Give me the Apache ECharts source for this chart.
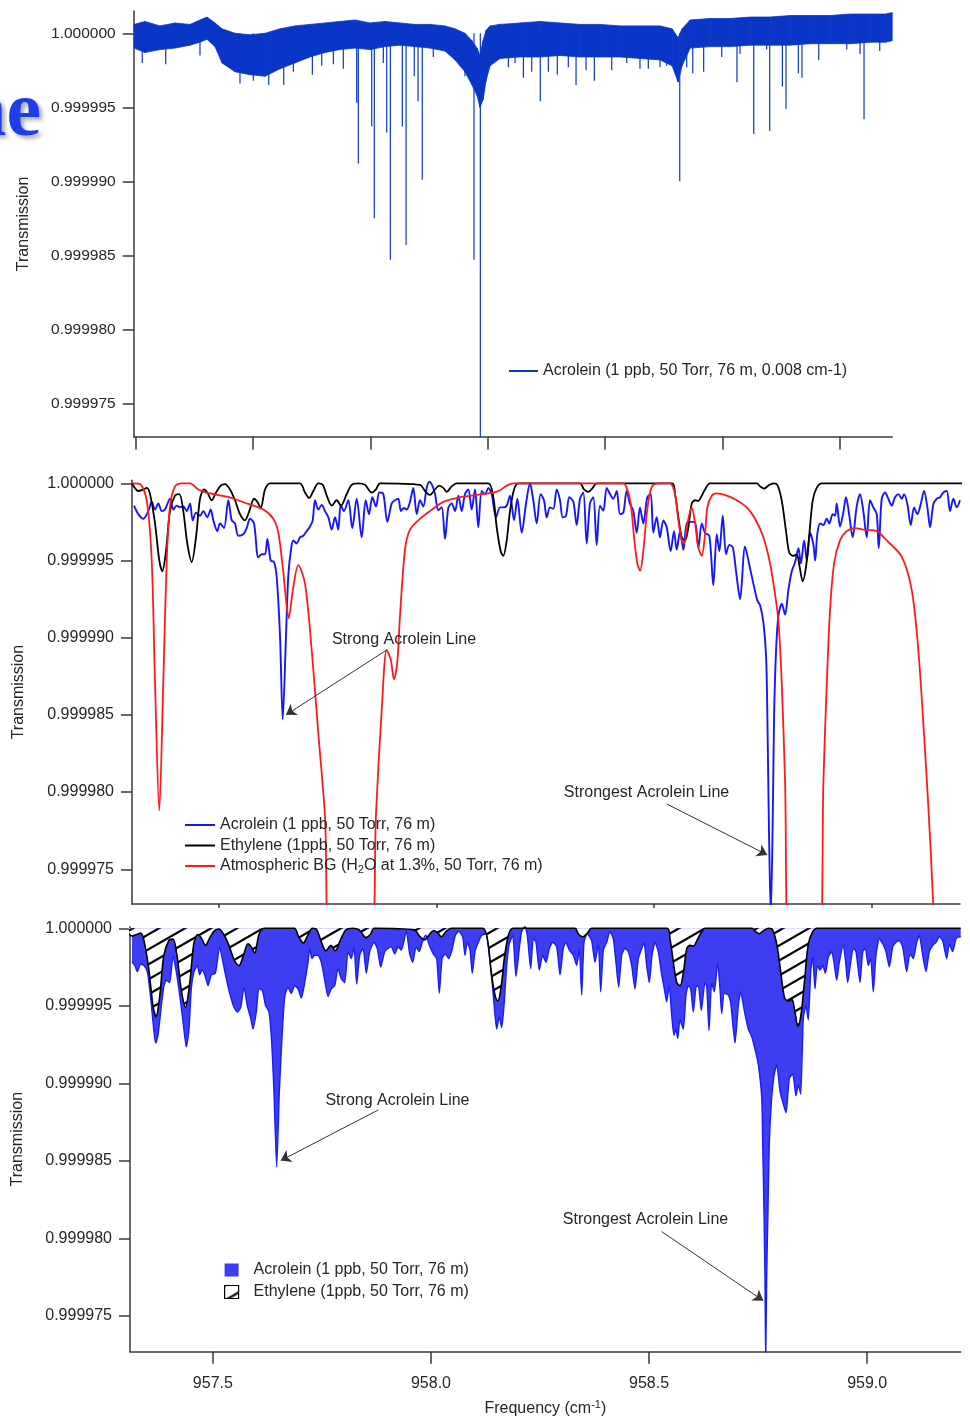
<!DOCTYPE html>
<html><head><meta charset="utf-8">
<script src="https://cdn.jsdelivr.net/npm/echarts@6/dist/echarts.min.js"></script>
<style>html,body{margin:0;padding:0;background:#fff}#c{width:970px;height:1418px}</style>
</head><body><div id="c"></div>
<script>
// ---------- DATA (transmission deviation from 1, in units of 1e-6) ----------
// Top panel (wide scan, x in axis-tick units)
const topU = [-0.015,0.078,0.206,0.334,0.462,0.547,0.607,0.675,0.735,0.846,0.974,1.102,1.229,1.357,1.485,1.613,1.741,1.869,1.997,2.124,2.252,2.380,2.508,2.636,2.721,2.806,2.866,2.909,2.934,2.960,2.986,3.020,3.105,3.276,3.447,3.617,3.788,3.958,4.129,4.299,4.470,4.572,4.623,4.657,4.726,4.896,5.067,5.237,5.408,5.579,5.749,5.920,6.090,6.261,6.389,6.448];
const topUpper = [0.6,0.8,0.5,0.7,0.6,0.9,1.1,0.7,0.3,0.0,-0.1,0.0,0.3,0.5,0.6,0.7,0.8,0.9,0.7,0.8,0.7,0.6,0.6,0.5,0.3,0.0,-0.5,-1.0,-1.5,-0.5,0.2,0.5,0.6,0.7,0.8,0.7,0.6,0.6,0.5,0.5,0.5,0.3,-0.3,0.3,0.9,1.0,1.0,1.1,1.1,1.2,1.2,1.2,1.3,1.3,1.3,1.4];
const topLower = [-1.0,-1.3,-1.1,-1.0,-0.8,-0.6,-0.4,-0.9,-2.0,-2.6,-2.8,-2.9,-2.4,-2.0,-1.6,-1.3,-1.1,-1.0,-1.1,-0.9,-0.8,-0.9,-1.0,-1.2,-1.8,-2.6,-3.5,-4.2,-5.0,-4.5,-3.2,-2.2,-1.7,-1.6,-1.6,-1.5,-1.6,-1.6,-1.6,-1.7,-1.8,-2.2,-3.3,-2.2,-1.0,-0.9,-0.9,-0.8,-0.8,-0.8,-0.7,-0.7,-0.7,-0.6,-0.6,-0.5];
const topSpikeU = [0.055,0.255,0.888,1.133,1.261,1.505,1.769,1.883,1.897,2.011,2.033,2.139,2.170,2.272,2.304,2.374,2.406,2.442,2.883,2.937,3.304,3.375,3.448,3.593,3.753,3.909,4.369,4.637,4.748,4.841,5.125,5.268,5.404,5.512,5.543,5.648,5.679,5.822,6.208,6.342,
  3.176,3.233,3.517,3.687,3.838,4.057,4.185,4.298,4.469,4.526,4.582,4.696,4.995,5.151,5.378,6.061,6.174,0.547,1.002,1.343,1.585,1.684,2.110,2.536,2.806];
const topSpikeDepth = [-2.0,-2.1,-3.4,-3.5,-3.5,-2.8,-2.4,-4.7,-8.8,-6.3,-12.5,-6.7,-15.3,-6.3,-14.3,-2.9,-4.6,-9.9,-15.3,-28,-3.0,-2.6,-4.6,-2.8,-3.5,-3.2,-2.4,-10.0,-2.7,-2.6,-3.3,-6.8,-6.6,-3.6,-5.1,-2.7,-3.0,-1.8,-5.8,-1.2,
  -2.3,-2.0,-2.6,-2.3,-2.5,-2.5,-2.0,-2.4,-2.3,-2.2,-2.0,-2.3,-1.6,-1.4,-1.1,-1.1,-1.4,-1.5,-3.2,-2.6,-2.2,-2.1,-2.0,-1.6,-2.9];

// Middle panel: acrolein
const midAcroFreq = [957.3046,957.3145,957.3260,957.3375,957.3453,957.3529,957.3604,957.3683,957.3758,957.3873,
957.3949,957.4027,957.4103,957.4179,957.4257,957.4333,957.4395,957.4471,957.4563,957.4639,
957.4731,957.4809,957.4869,957.4960,957.5023,957.5114,957.5213,957.5291,957.5367,957.5443,
957.5558,957.5636,957.5712,957.5804,957.5903,957.5981,957.6057,957.6110,957.6188,957.6264,
957.6326,957.6402,957.6464,957.6539,957.6592,957.6654,957.6707,957.6785,957.6861,957.6937,
957.7015,957.7091,957.7153,957.7206,957.7282,957.7360,957.7436,957.7512,957.7590,957.7666,
957.7741,957.7797,957.7872,957.7971,957.8063,957.8164,957.8279,957.8371,957.8447,957.8523,
957.8608,957.8684,957.8776,957.8868,957.8969,957.9044,957.9120,957.9182,957.9251,957.9313,
957.9389,957.9465,957.9543,957.9619,957.9695,957.9773,957.9833,957.9895,957.9964,958.0040,
958.0118,958.0194,958.0270,958.0348,958.0424,958.0500,958.0578,958.0653,958.0729,958.0807,
958.0883,958.0959,958.1037,958.1113,958.1189,958.1267,958.1366,958.1458,958.1534,958.1612,
958.1688,958.1780,958.1856,958.1957,958.2055,958.2147,958.2223,958.2301,958.2393,958.2469,
958.2531,958.2607,958.2683,958.2761,958.2837,958.2899,958.2975,958.3051,958.3143,958.3221,
958.3296,958.3372,958.3450,958.3526,958.3602,958.3680,958.3756,958.3832,958.3910,958.3986,
958.4062,958.4140,958.4216,958.4292,958.4370,958.4446,958.4521,958.4600,958.4675,958.4751,
958.4843,958.4921,958.4981,958.5059,958.5135,958.5211,958.5289,958.5381,958.5457,958.5519,
958.5596,958.5672,958.5750,958.5865,958.5941,958.6016,958.6095,958.6170,958.6269,958.6361,
958.6439,958.6499,958.6577,958.6653,958.6729,958.6807,958.6883,958.6975,958.7090,958.7189,
958.7281,958.7373,958.7435,958.7511,958.7573,958.7603,958.7635,958.7681,958.7727,958.7757,
958.7803,958.7856,958.7934,958.8010,958.8086,958.8164,958.8241,958.8317,958.8372,958.8448,
958.8510,958.8586,958.8662,958.8701,958.8750,958.8813,958.8889,958.8967,958.9026,958.9104,
958.9157,958.9196,958.9272,958.9348,958.9410,958.9486,958.9564,958.9656,958.9732,958.9808,
958.9886,958.9962,959.0038,959.0116,959.0162,959.0231,959.0307,959.0383,959.0461,959.0537,
959.0613,959.0691,959.0744,959.0820,959.0898,959.0974,959.1050,959.1128,959.1204,959.1280,
959.1342,959.1418,959.1496,959.1572,959.1648,959.1726,959.1800,959.1878,959.1956,959.2030];
const midAcroDev = [-1.45,-2.0,-2.3,-1.8,-1.2,-1.7,-1.3,-1.8,-1.7,-1.0,
-1.7,-1.45,-1.55,-1.5,-1.8,-1.3,-2.4,-1.9,-2.1,-1.8,
-2.2,-1.7,-2.4,-3.1,-2.6,-2.9,-1.1,-2.4,-2.6,-3.4,
-3.3,-2.9,-2.3,-2.6,-4.8,-4.6,-4.6,-3.6,-5.0,-5.1,
-6.1,-9.9,-15.3,-9.9,-6.0,-4.3,-3.7,-3.9,-3.5,-3.4,
-3.1,-2.8,-2.4,-1.1,-1.7,-1.4,-1.8,-2.2,-3.0,-2.2,
-3.0,-1.4,-1.8,-1.1,-2.9,-1.0,-3.5,-1.1,-2.0,-0.9,
-1.5,-0.6,-0.7,-2.5,-1.3,-1.1,-1.0,-1.8,-1.6,-1.7,
-1.2,-0.3,-2.0,-1.1,-1.5,-0.3,0.1,-0.1,-0.7,-1.75,
-1.55,-3.6,-1.6,-1.3,-1.8,-0.8,-1.8,-0.7,-0.4,-1.7,
-0.4,-2.85,-0.5,-0.7,-0.3,-0.7,-2.2,-1.56,-1.56,-1.45,
-0.8,-2.4,-1.0,-3.2,-1.34,0.0,-1.1,-2.6,-0.7,-1.1,
-2.2,-1.56,-1.66,-0.4,-1.1,-2.2,-2.1,-0.9,-1.2,-2.7,
-1.0,-0.6,-3.9,-1.3,-0.9,-4.0,-1.45,-1.77,-0.3,-0.7,
-1.0,-0.5,-2.0,-1.9,-0.5,-1.34,-1.77,-3.2,-1.56,-2.6,
-0.9,-0.7,-3.2,-2.2,-3.5,-2.4,-2.85,-4.4,-3.1,-4.3,
-3.1,-4.3,-2.6,-2.5,-2.5,-4.2,-2.6,-3.2,-3.4,-6.6,
-3.3,-4.4,-2.1,-4.6,-4.0,-4.15,-5.7,-7.5,-4.1,-5.3,
-6.5,-7.6,-7.9,-9.0,-11.2,-15.1,-21.6,-28,-21.6,-15.1,
-10.8,-8.6,-7.8,-8.5,-6.9,-5.7,-5.1,-4.2,-5.2,-3.7,
-5.0,-3.2,-4.0,-5.0,-3.3,-2.6,-2.7,-2.3,-2.6,-2.0,
-2.1,-1.3,-2.8,-1.9,-0.9,-2.1,-3.5,-1.5,-0.7,-1.8,
-3.5,-1.1,-1.56,-2.0,-4.2,-1.0,-0.6,-1.0,-1.45,-0.9,
-0.7,-1.0,-0.7,-1.34,-2.7,-1.56,-2.0,-1.34,-0.5,-1.56,
-2.85,-1.34,-1.0,-0.9,-0.6,-0.5,-1.8,-1.0,-1.56,-1.1];

// Ethylene (shared by middle and bottom panels)
const ethFreq = [957.3000,957.3145,957.3260,957.3338,957.3414,957.3529,957.3627,957.3696,957.3781,957.3873,
957.3988,957.4087,957.4179,957.4271,957.4372,957.4471,957.4563,957.4655,957.4731,957.4832,
957.4931,957.5039,957.5137,957.5252,957.5367,957.5482,957.5597,957.5696,957.5804,957.5880,
957.5958,957.6057,957.6172,957.6861,957.6976,957.7075,957.7167,957.7282,957.7383,957.7489,
957.7590,957.7705,957.7803,957.7934,957.8049,957.8201,957.8355,957.8509,957.8608,957.8700,
957.9619,957.9734,957.9849,957.9964,958.0063,958.0155,958.0233,958.0348,958.0463,958.1189,
958.1304,958.1382,958.1474,958.1534,958.1612,958.1688,958.1780,958.1879,958.3296,958.3388,
958.3487,958.3588,958.3680,958.5411,958.5481,958.5557,958.5635,958.5711,958.5787,958.5865,
958.5941,958.6016,958.6095,958.6170,958.6285,958.7359,958.7435,958.7527,958.7624,958.7739,
958.7831,958.7932,958.8031,958.8107,958.8199,958.8277,958.8337,958.8415,958.8491,958.8567,
958.8645,958.8737,958.8852,959.2144];
const ethDev = [0,-0.5,-0.4,-0.3,-0.7,-2.6,-5.0,-5.7,-4.4,-1.8,
-0.8,-0.7,-1.8,-3.9,-5.1,-3.5,-1.0,-0.4,-0.6,-1.1,
-0.6,-0.15,-0.05,-0.4,-1.1,-2.0,-2.4,-1.8,-1.0,-1.2,
-1.6,-0.4,0,0,-0.6,-0.95,-0.5,0,-0.1,-0.9,
-1.45,-1.1,-1.45,-0.7,-0.1,0,-0.1,-0.6,-0.4,0,
-0.1,-0.5,-0.75,-0.4,-0.15,-0.3,-0.55,-0.2,0,0,
-0.9,-2.85,-4.4,-4.7,-3.7,-1.8,-0.4,0,0,-0.4,
-0.55,-0.3,0,0,-0.7,-2.2,-3.5,-3.7,-2.85,-1.3,
-1.1,-1.15,-0.8,-0.4,0,0,-0.2,-0.35,-0.15,0,
-0.1,-1.1,-3.1,-4.5,-4.7,-4.6,-5.3,-6.35,-5.4,-3.3,
-1.1,-0.3,0,0];

// Atmospheric background (H2O)
const atmFreq = [957.3011,957.3184,957.3338,957.3453,957.3529,957.3627,957.3719,957.3798,957.3873,957.3988,
957.4142,957.4333,957.4524,957.4717,957.5177,957.5636,957.6018,957.6248,957.6362,957.6464,
957.6539,957.6601,957.6693,957.6822,957.6976,957.7130,957.7282,957.7436,957.7551,957.8493,
957.8608,957.8739,957.8854,957.8946,957.9021,957.9097,957.9159,957.9274,957.9389,957.9619,
957.9849,958.0155,958.0539,958.0922,958.1304,958.1458,958.1612,958.1763,958.4292,958.4370,
958.4462,958.4539,958.4614,958.4677,958.4751,958.4830,958.4906,958.4981,958.5135,958.5365,
958.5481,958.5557,958.5635,958.5688,958.5764,958.5865,958.5941,958.6016,958.6095,958.6170,
958.6223,958.6324,958.6439,958.6669,958.6899,958.7129,958.7320,958.7511,958.7665,958.7780,
958.7856,958.7934,958.8010,958.8102,958.8803,958.8890,958.8968,958.9044,958.9136,958.9272,
958.9426,958.9617,958.9808,959.0116,959.0346,959.0690,959.0920,959.1072,959.1226,959.1357,
959.1456];
const atmDev = [0,-0.05,-1.1,-5.0,-12.9,-21.2,-12.9,-5.0,-1.5,-0.2,
0,0,-0.4,-0.6,-0.87,-1.3,-1.7,-2.3,-3.2,-5.4,
-7.5,-8.75,-7.0,-5.3,-6.5,-10.8,-16.2,-21.6,-30,-30,
-21.4,-14.7,-10.8,-11.4,-12.7,-11.6,-8.6,-4.3,-3.0,-2.3,
-1.8,-1.2,-0.9,-0.75,-0.6,-0.45,-0.15,0,0,-0.3,
-1.3,-3.5,-5.2,-5.66,-4.4,-2.0,-0.6,-0.1,0,0,
-0.7,-2.4,-3.7,-3.9,-2.6,-1.56,-2.6,-4.15,-4.7,-3.3,
-1.56,-0.8,-0.65,-0.8,-1.1,-1.56,-2.3,-3.5,-5.2,-7.2,
-8.9,-13.0,-19.4,-30,-30,-19.4,-13.0,-8.2,-5.2,-3.7,
-3.1,-2.9,-3.0,-3.1,-3.7,-4.75,-6.9,-10.8,-17.3,-23.8,
-30];

// Bottom panel: acrolein + ethylene combined
const botFreq = [957.3146,957.3208,957.3267,957.3345,957.3421,957.3497,957.3575,957.3650,957.3689,957.3742,
957.3818,957.3879,957.3932,957.4010,957.4086,957.4161,957.4239,957.4315,957.4391,957.4453,
957.4505,957.4567,957.4643,957.4698,957.4751,957.4813,957.4888,957.4964,957.5056,957.5156,
957.5232,957.5308,957.5386,957.5484,957.5560,957.5638,957.5713,957.5789,957.5867,957.5920,
957.5995,957.6057,957.6133,957.6211,957.6287,957.6349,957.6401,957.6463,957.6523,957.6578,
957.6647,957.6722,957.6798,957.6876,957.6951,957.7027,957.7105,957.7181,957.7220,957.7272,
957.7334,957.7410,957.7486,957.7564,957.7639,957.7715,957.7793,957.7868,957.7944,957.8022,
957.8098,957.8173,957.8235,957.8297,957.8366,957.8442,957.8517,957.8595,957.8694,957.8769,
957.8847,957.8939,957.9015,957.9090,957.9168,957.9244,957.9320,957.9434,957.9512,957.9581,
957.9657,957.9732,957.9810,957.9886,957.9962,958.0053,958.0131,958.0191,958.0253,958.0328,
958.0406,958.0482,958.0558,958.0636,958.0727,958.0780,958.0833,958.0895,958.0947,958.1009,
958.1085,958.1163,958.1261,958.1337,958.1415,958.1468,958.1507,958.1566,958.1621,958.1674,
958.1736,958.1795,958.1873,958.1949,958.2025,958.2080,958.2155,958.2208,958.2286,958.2346,
958.2408,958.2483,958.2561,958.2637,958.2713,958.2790,958.2882,958.2958,958.3033,958.3095,
958.3171,958.3263,958.3341,958.3400,958.3455,958.3508,958.3584,958.3684,958.3760,958.3836,
958.3891,958.3951,958.4028,958.4104,958.4180,958.4241,958.4303,958.4372,958.4448,958.4523,
958.4601,958.4677,958.4753,958.4831,958.4884,958.4945,958.5005,958.5067,958.5136,958.5211,
958.5289,958.5349,958.5404,958.5463,958.5518,958.5571,958.5617,958.5656,958.5709,958.5784,
958.5846,958.5899,958.5954,958.6014,958.6075,958.6128,958.6197,958.6282,958.6321,958.6374,
958.6435,958.6495,958.6573,958.6626,958.6665,958.6724,958.6816,958.6871,958.6970,958.7045,
958.7100,958.7176,958.7274,958.7353,958.7428,958.7504,958.7582,958.7605,958.7634,958.7657,
958.7673,958.7696,958.7726,958.7756,958.7811,958.7864,958.7926,958.8001,958.8063,958.8139,
958.8214,958.8292,958.8368,958.8421,958.8476,958.8535,958.8597,958.8650,958.8705,958.8751,
958.8804,958.8856,958.8918,958.8980,958.9040,958.9109,958.9186,958.9239,958.9301,958.9361,
958.9452,958.9507,958.9553,958.9622,958.9682,958.9744,958.9835,958.9897,958.9957,959.0026,
959.0081,959.0140,959.0202,959.0278,959.0356,959.0431,959.0507,959.0585,959.0661,959.0736,
959.0814,959.0906,959.0982,959.1057,959.1135,959.1195,959.1273,959.1348,959.1424,959.1502,
959.1578,959.1653,959.1731,959.1823,959.1883,959.1960,959.2036,959.2112,959.2144];
const botDev = [-2.17,-2.4,-2.8,-2.3,-2.4,-2.8,-4.5,-6.7,-7.4,-6.9,
-5.0,-3.7,-3.35,-3.5,-1.8,-2.8,-4.3,-6.0,-7.65,-6.5,
-3.9,-2.8,-2.4,-3.0,-2.7,-3.0,-3.7,-3.0,-2.9,-1.2,
-2.2,-3.25,-4.2,-5.1,-5.4,-5.1,-3.8,-5.0,-5.8,-6.5,
-5.4,-3.9,-4.0,-5.0,-5.4,-7.4,-10.6,-15.4,-10.6,-7.4,
-4.4,-3.8,-4.2,-3.7,-3.9,-4.5,-3.5,-2.2,-1.3,-1.95,
-1.74,-1.74,-2.2,-3.35,-4.4,-3.9,-3.7,-2.6,-3.25,-3.5,
-1.5,-1.95,-1.2,-3.6,-1.74,-1.3,-2.9,-1.5,-0.9,-1.3,
-2.5,-1.5,-1.3,-1.2,-1.65,-1.2,-1.4,-0.2,-1.65,-2.2,
-1.2,-1.5,-0.8,-0.45,-1.1,-1.65,-1.95,-4.2,-1.95,-1.65,
-1.95,-1.4,-0.45,-0.2,-0.55,-1.74,-0.9,-1.4,-2.9,-1.5,
-0.9,-0.45,-0.35,-1.74,-3.9,-5.6,-6.5,-5.7,-6.4,-5.0,
-2.4,-1.0,-0.45,-3.1,-1.3,-0.2,0.1,-0.45,-2.6,-0.67,
-0.9,-2.7,-1.74,-2.2,-1.3,-0.9,-1.2,-3.0,-1.3,-0.9,
-1.4,-1.74,-2.4,-1.3,-4.3,-0.9,-0.35,-0.8,-2.2,-1.0,
-4.1,-1.4,-0.9,-0.2,-0.67,-2.2,-3.8,-1.74,-1.3,-1.5,
-2.4,-3.9,-1.95,-1.3,-0.9,-2.4,-3.5,-1.74,-0.9,-1.5,
-3.0,-3.9,-4.75,-3.7,-5.6,-6.9,-6.5,-7.1,-5.9,-6.5,
-4.3,-3.7,-3.9,-5.4,-3.8,-3.7,-5.3,-3.5,-3.7,-6.6,
-3.5,-4.1,-2.2,-3.9,-5.5,-4.2,-4.3,-4.8,-7.4,-5.0,
-4.1,-5.2,-6.5,-7.0,-7.8,-8.8,-10.9,-13.9,-18.2,-22.5,
-28,-22.5,-18.2,-13.9,-10.9,-9.5,-8.8,-10.5,-11.2,-11.9,
-9.7,-9.4,-10.8,-10.1,-10.7,-5.8,-5.0,-5.9,-2.8,-1.85,
-3.9,-2.4,-2.7,-2.4,-2.9,-1.85,-1.5,-2.2,-3.35,-2.2,
-1.1,-2.2,-3.5,-2.2,-1.3,-1.5,-3.5,-1.5,-1.3,-2.4,
-1.95,-4.1,-1.74,-0.67,-1.0,-1.5,-2.5,-1.2,-0.9,-0.8,
-1.2,-2.8,-1.65,-1.95,-0.9,-0.45,-1.74,-2.8,-1.5,-1.1,
-0.9,-0.55,-0.8,-1.95,-1.0,-1.5,-0.67,-0.55,-0.55];

// Tick values
const yTickValues = [-25,-20,-15,-10,-5,0];
const freqTickValues = [957.5,958.0,958.5,959.0];
const topTickValues = [0,1,2,3,4,5,6];

// Annotations (data coordinates)
const midAnnotations = [
  {text:'Strong Acrolein Line', at:[957.9251,-10.15], from:[957.8854,-10.8], to:[957.6539,-15.0]},
  {text:'Strongest Acrolein Line', at:[958.4825,-20.06], from:[958.5289,-20.77], to:[958.7601,-24.07]}
];
const botAnnotations = [
  {text:'Strong Acrolein Line', at:[957.9232,-11.12], from:[957.8792,-11.72], to:[957.6555,-14.99]},
  {text:'Strongest Acrolein Line', at:[958.4918,-18.82], from:[958.5289,-19.57], to:[958.7618,-24.03]}
];

const LABELS = {
  acroTop:'Acrolein (1 ppb, 50 Torr, 76 m, 0.008 cm-1)',
  acroMid:'Acrolein (1 ppb, 50 Torr, 76 m)',
  ethMid:'Ethylene (1ppb, 50 Torr, 76 m)',
  atmMid:'{n|Atmospheric BG (H}{s|2}{n|O at 1.3%, 50 Torr, 76 m)}',
  acroBot:'Acrolein (1 ppb, 50 Torr, 76 m)',
  ethBot:'Ethylene (1ppb, 50 Torr, 76 m)'
};

// ---------- CHART ----------
const FONT = '"Liberation Sans", Arial, Helvetica, sans-serif';
const TXT = '#262626';
const AX = '#3a3a3a';
const TOPBLUE = '#0a36c8';
const MIDBLUE = '#1515ff';
const RED = '#ff1a1a';

const zip = (xs, ys) => xs.map((x, i) => [x, ys[i]]);

function makeHatch(){
  const W = 26, H = 15;
  const c = document.createElement('canvas');
  c.width = W; c.height = H;
  const g = c.getContext('2d');
  g.fillStyle = '#fff'; g.fillRect(0, 0, W, H);
  g.strokeStyle = '#000'; g.lineWidth = 2.2;
  const s = H / W;
  for (const k of [0, 1, 2]) {
    g.beginPath();
    g.moveTo(-4, H * k + 4 * s);
    g.lineTo(W + 4, H * k - (W + 4) * s);
    g.stroke();
  }
  return {image: c, repeat: 'repeat'};
}
const hatch = makeHatch();

const topSpikeData = [];
topSpikeU.forEach((u, i) => { topSpikeData.push([u, 0], [u, topSpikeDepth[i]], [u, '-']); });

function yAxisFor(gi, min, max, nameGap, fs){
  return {
    gridIndex: gi, type: 'value', min, max,
    axisLine: {show: true, onZero: false, lineStyle: {color: AX, width: 1.5}},
    axisTick: {show: true, length: 11, customValues: yTickValues, lineStyle: {color: AX, width: 1.5}},
    axisLabel: {show: true, customValues: yTickValues, margin: 18, color: TXT, fontSize: fs, fontFamily: FONT,
      formatter: v => (1 + v * 1e-6).toFixed(6)},
    splitLine: {show: false},
    name: 'Transmission', nameLocation: 'middle', nameGap, nameRotate: 90, nameMoveOverlap: false,
    nameTextStyle: {color: TXT, fontSize: 16, fontFamily: FONT}
  };
}

function marks(list){
  return {
    markLine: {
      silent: true, animation: false, symbol: ['none', 'arrow'], symbolSize: 10,
      label: {show: false}, emphasis: {disabled: true},
      lineStyle: {color: '#333', width: 1, type: 'solid'},
      itemStyle: {color: '#222'},
      data: list.map(a => [{coord: a.from}, {coord: a.to}])
    },
    markPoint: {
      silent: true, animation: false, symbol: 'rect', symbolSize: 1,
      itemStyle: {color: 'rgba(0,0,0,0)'},
      label: {show: true, position: 'inside', color: TXT, fontSize: 16, fontFamily: FONT},
      data: list.map(a => ({coord: a.at, label: {formatter: a.text}}))
    }
  };
}

const legendText = {
  fontSize: 16, color: TXT, fontFamily: FONT, lineHeight: 18,
  rich: {
    n: {fontSize: 16, color: TXT, fontFamily: FONT, lineHeight: 18},
    s: {fontSize: 11, color: TXT, fontFamily: FONT, lineHeight: 10, verticalAlign: 'bottom'}
  }
};

const chart = echarts.init(document.getElementById('c'), null, {renderer: 'canvas'});
chart.setOption({
  animation: false,
  backgroundColor: '#fff',
  textStyle: {fontFamily: FONT},
  graphic: [{
    type: 'text', x: 41, y: 115, silent: true,
    style: {text: 'ne', fontSize: 78, fontWeight: 'bold', fontFamily: '"Liberation Serif", "Times New Roman", serif',
      fill: '#1f3fe6', align: 'right', verticalAlign: 'middle',
      textShadowColor: 'rgba(0,0,40,0.35)', textShadowBlur: 4, textShadowOffsetX: 3, textShadowOffsetY: 3}
  }],
  grid: [
    {left: 133.7, top: 11.1, width: 758.6, height: 425.6, outerBoundsMode: 'none'},
    {left: 132, top: 480.2, width: 828, height: 423.8, outerBoundsMode: 'none'},
    {left: 130, top: 926.75, width: 830.7, height: 424.95, outerBoundsMode: 'none'}
  ],
  xAxis: [
    {gridIndex: 0, type: 'value', min: -0.018, max: 6.449,
      axisLine: {onZero: false, lineStyle: {color: AX, width: 1.5}},
      axisTick: {length: 13, customValues: topTickValues, lineStyle: {color: AX, width: 1.5}},
      axisLabel: {show: false}, splitLine: {show: false}},
    {gridIndex: 1, type: 'value', min: 957.3, max: 959.203,
      axisLine: {onZero: false, lineStyle: {color: AX, width: 1.5}},
      axisTick: {length: 4, customValues: freqTickValues, lineStyle: {color: AX, width: 1.5}},
      axisLabel: {show: false}, splitLine: {show: false}},
    {gridIndex: 2, type: 'value', min: 957.31, max: 959.2144,
      axisLine: {onZero: false, lineStyle: {color: AX, width: 1.5}},
      axisTick: {length: 12, customValues: freqTickValues, lineStyle: {color: AX, width: 1.5}},
      axisLabel: {customValues: freqTickValues, formatter: v => v.toFixed(1), margin: 24, color: TXT, fontSize: 16, fontFamily: FONT},
      splitLine: {show: false},
      name: '{n|Frequency (cm}{sup|-1}{n|)}', nameLocation: 'middle', nameGap: 48, nameMoveOverlap: false,
      nameTextStyle: {color: TXT, fontFamily: FONT, fontSize: 16, rich: {
        n: {fontSize: 16, color: TXT, fontFamily: FONT, lineHeight: 18},
        sup: {fontSize: 11, color: TXT, fontFamily: FONT, lineHeight: 10, verticalAlign: 'top'}
      }}}
  ],
  yAxis: [
    yAxisFor(0, -27.26, 1.5, 102, 15.5),
    yAxisFor(1, -27.25, 0.2, 105, 16),
    yAxisFor(2, -27.32, 0.1, 104, 16)
  ],
  legend: [
    {data: ['acroTop'], left: 509, top: 362, orient: 'vertical', padding: 0, itemWidth: 29, itemHeight: 2,
      icon: 'rect', selectedMode: false, formatter: n => LABELS[n], textStyle: legendText},
    {data: ['acroMid', 'ethMid', 'atmMid'], left: 185, top: 816, orient: 'vertical', padding: 0, itemWidth: 30, itemHeight: 2,
      itemGap: 2.5, icon: 'rect', selectedMode: false, formatter: n => LABELS[n], textStyle: legendText},
    {data: [{name: 'acroBot', icon: 'rect', itemStyle: {color: '#3d3df2'}},
            {name: 'ethBot', icon: 'rect', itemStyle: {color: hatch, borderColor: '#000', borderWidth: 1.2}}],
      left: 224, top: 1261, orient: 'vertical', padding: 0, itemWidth: 14, itemHeight: 13, itemGap: 4,
      selectedMode: false, formatter: n => LABELS[n], textStyle: Object.assign({}, legendText, {padding: [0, 0, 0, 10]})}
  ],
  series: [
    {type: 'custom', name: 'topBand', xAxisIndex: 0, yAxisIndex: 0, silent: true, clip: true,
      data: topU.map((u, i) => [u, topUpper[i], topLower[i]]),
      encode: {x: 0, y: [1, 2]},
      renderItem: (params, api) => {
        const i = params.dataIndex;
        if (i >= topU.length - 1) return null;
        const pts = [
          api.coord([topU[i], topUpper[i]]), api.coord([topU[i + 1], topUpper[i + 1]]),
          api.coord([topU[i + 1], topLower[i + 1]]), api.coord([topU[i], topLower[i]])
        ];
        return {type: 'polygon', shape: {points: pts}, style: {fill: TOPBLUE, stroke: TOPBLUE, lineWidth: 0.8}};
      }},
    {type: 'line', name: 'acroTop', xAxisIndex: 0, yAxisIndex: 0, data: topSpikeData, symbol: 'none', silent: true,
      itemStyle: {color: TOPBLUE}, lineStyle: {color: TOPBLUE, width: 1.2}},

    Object.assign({type: 'line', name: 'acroMid', xAxisIndex: 1, yAxisIndex: 1, data: zip(midAcroFreq, midAcroDev),
      smooth: 0.3, symbol: 'none', silent: true, itemStyle: {color: MIDBLUE}, lineStyle: {color: MIDBLUE, width: 1.9}}, marks(midAnnotations)),
    {type: 'line', name: 'ethMid', xAxisIndex: 1, yAxisIndex: 1, data: zip(ethFreq, ethDev), smooth: 0.3,
      symbol: 'none', silent: true, itemStyle: {color: '#000'}, lineStyle: {color: '#000', width: 1.8}},
    {type: 'line', name: 'atmMid', xAxisIndex: 1, yAxisIndex: 1, data: zip(atmFreq, atmDev), smooth: 0.3,
      symbol: 'none', silent: true, itemStyle: {color: RED}, lineStyle: {color: RED, width: 1.8}},

    Object.assign({type: 'line', name: 'acroBot', xAxisIndex: 2, yAxisIndex: 2, data: zip(botFreq, botDev),
      smooth: 0.2, symbol: 'none', silent: true, itemStyle: {color: '#1a1aff'}, lineStyle: {color: '#1a1aff', width: 1.4},
      areaStyle: {color: '#3d3df2', opacity: 1, origin: 0}}, marks(botAnnotations)),
    {type: 'line', name: 'ethBot', xAxisIndex: 2, yAxisIndex: 2, data: zip(ethFreq, ethDev), smooth: 0.3,
      symbol: 'none', silent: true, itemStyle: {color: '#000'}, lineStyle: {color: '#000', width: 1.6},
      areaStyle: {color: hatch, opacity: 1, origin: 0}}
  ]
});
</script></body></html>
